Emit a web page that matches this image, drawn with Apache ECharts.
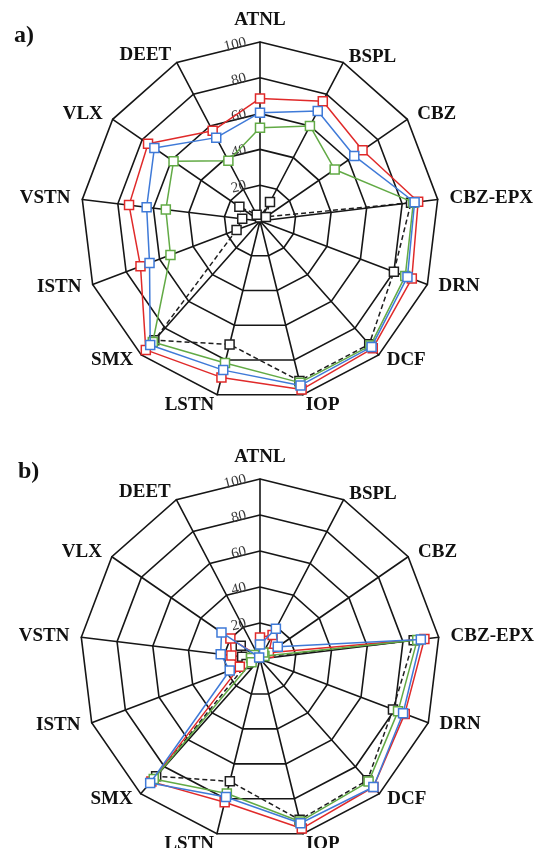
<!DOCTYPE html>
<html>
<head>
<meta charset="utf-8">
<script src="https://cdn.jsdelivr.net/npm/echarts@6/dist/echarts.min.js"></script>
<style>
html,body{margin:0;padding:0;background:#fff;}
#chart{width:536px;height:848px;}
</style>
</head>
<body>
<div id="chart"></div>
<script>
// Indicators in clockwise order starting at top
const indicators = ['ATNL','BSPL','CBZ','CBZ-EPX','DRN','DCF','IOP','LSTN','SMX','ISTN','VSTN','VLX','DEET'];
const axisMax = 100;
const tickLabels = [20, 40, 60, 80, 100];

// Panel a)
const redA   = [68.5, 75.5, 69.6, 89, 90.7, 95, 97, 90, 96.2, 71.4, 73.7, 76, 56.9];
const blueA  = [60.5, 69.4, 64, 87, 88.1, 94, 94.6, 85.8, 92.5, 66, 63.8, 71.7, 52.6];
const greenA = [52.1, 60, 50.7, 86.3, 86.8, 93, 93, 81.7, 90.3, 53.5, 53, 58.7, 38];
const blackA = [2, 12, 4, 85, 80, 92, 92, 71, 89, 14, 10, 14, 4];

// Panel b)
const redB   = [12, 15, 6, 92, 86, 95, 97, 82, 91, 12, 16, 20, 2];
const blueB  = [8, 19, 12, 90, 85, 95, 94, 79, 92, 18, 22, 26, 1];
const greenB = [3, 4, 3, 88, 82, 91, 93, 77, 89, 5, 5, 4, 2];
const blackB = [2, 2, 2, 86, 79, 90, 92, 70, 87, 8, 10, 13, 2];

const panelLabels = ['a)', 'b)'];

// ECharts lays radar indicators counter-clockwise; reorder to get clockwise
const ord = [0].concat(indicators.slice(1).map((_, i) => indicators.length - 1 - i));
const re = arr => ord.map(i => arr[i]);

// vertical nudges of indicator names (px, + = down)
const nameShift = {ATNL:0, BSPL:5, CBZ:2, 'CBZ-EPX':0, DRN:-3, DCF:-4, IOP:-1, LSTN:-1, SMX:-4, ISTN:-2, VSTN:0, VLX:2, DEET:3};
const rich = {};
indicators.forEach((n, i) => {
  const s = nameShift[n] || 0;
  rich['n' + i] = {
    fontFamily: 'Liberation Serif', fontWeight: 'bold', fontSize: 19, color: '#111',
    padding: s >= 0 ? [2 * s, 0, 0, 0] : [0, 0, -2 * s, 0]
  };
});

const grid = '#161616';
function makeRadar(center, radius) {
  return {
    center: center, radius: radius, startAngle: 90, shape: 'polygon', splitNumber: 5,
    indicator: re(indicators).map((n, k) => {
      const ind = {name: n, min: 0, max: axisMax};
      if (k === 0) {
        ind.axisLabel = {
          show: true, rotate: 14, margin: 14,
          fontFamily: 'Liberation Serif', fontSize: 15, color: '#3a3a3a',
          formatter: v => (tickLabels.indexOf(v) >= 0 ? String(v) : '')
        };
      }
      return ind;
    }),
    nameGap: 12,
    axisName: {
      formatter: (name) => '{n' + indicators.indexOf(name) + '|' + name + '}',
      rich: rich, color: '#111'
    },
    axisLine: {lineStyle: {color: grid, width: 1.6}},
    splitLine: {lineStyle: {color: grid, width: 1.6}},
    splitArea: {show: false},
    axisTick: {show: false},
    axisLabel: {show: false}
  };
}

function series(radarIndex, vals, color, dashed, z) {
  return {
    type: 'radar', radarIndex: radarIndex, z: z,
    symbol: 'rect', symbolSize: 9,
    lineStyle: {color: color, width: 1.5, type: dashed ? [5, 3] : 'solid'},
    itemStyle: {color: '#fff', borderColor: color, borderWidth: 1.5},
    emphasis: {disabled: true},
    data: [{value: re(vals)}]
  };
}

const RED = '#e02a2a', BLUE = '#3f7ad8', GREEN = '#62aa45', BLACK = '#1e1e1e';

const chart = echarts.init(document.getElementById('chart'), null, {renderer: 'canvas'});
chart.setOption({
  animation: false,
  backgroundColor: '#fff',
  title: [
    {text: panelLabels[0], left: 9, top: 19, textStyle: {fontFamily: 'Liberation Serif', fontWeight: 'bold', fontSize: 24, color: '#111'}},
    {text: panelLabels[1], left: 13, top: 455, textStyle: {fontFamily: 'Liberation Serif', fontWeight: 'bold', fontSize: 24, color: '#111'}}
  ],
  radar: [makeRadar([260, 221], 179), makeRadar([260, 659], 180)],
  series: [
    series(0, blackA, BLACK, true, 2),
    series(0, redA, RED, false, 3),
    series(0, greenA, GREEN, false, 4),
    series(0, blueA, BLUE, false, 5),
    series(1, blackB, BLACK, true, 2),
    series(1, redB, RED, false, 3),
    series(1, greenB, GREEN, false, 4),
    series(1, blueB, BLUE, false, 5)
  ]
});
</script>
</body>
</html>
